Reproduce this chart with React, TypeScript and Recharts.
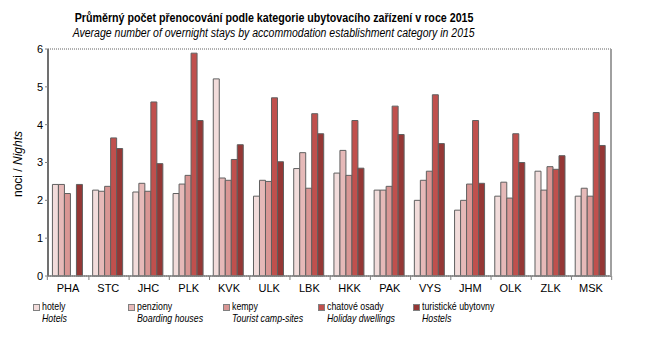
import { BarChart, Bar, XAxis, YAxis, CartesianGrid } from 'recharts';

const regions = ['PHA', 'STC', 'JHC', 'PLK', 'KVK', 'ULK', 'LBK', 'HKK', 'PAK', 'VYS', 'JHM', 'OLK', 'ZLK', 'MSK'];

const hotely = [2.42, 2.27, 2.22, 2.18, 5.21, 2.11, 2.84, 2.72, 2.27, 2.0, 1.74, 2.11, 2.77, 2.11];
const penziony = [2.42, 2.24, 2.45, 2.43, 2.59, 2.53, 3.26, 3.32, 2.27, 2.53, 2.0, 2.48, 2.27, 2.32];
const kempy = [2.18, 2.37, 2.24, 2.66, 2.53, 2.5, 2.32, 2.66, 2.37, 2.77, 2.43, 2.06, 2.89, 2.11];
const chatove = [null, 3.65, 4.6, 5.89, 3.08, 4.71, 4.29, 4.11, 4.49, 4.79, 4.11, 3.76, 2.82, 4.32];
const turisticke = [2.42, 3.37, 2.97, 4.11, 3.47, 3.02, 3.76, 2.85, 3.74, 3.5, 2.45, 3.0, 3.18, 3.45];

const yTicks = [0, 1, 2, 3, 4, 5, 6];

const series = [
  { key: 'hotely', cz: 'hotely', en: 'Hotels', color: '#f2dcdb' },
  { key: 'penziony', cz: 'penziony', en: 'Boarding houses', color: '#e6b9b8' },
  { key: 'kempy', cz: 'kempy', en: 'Tourist camp-sites', color: '#d99694' },
  { key: 'chatove', cz: 'chatové osady', en: 'Holiday dwellings', color: '#c0504d' },
  { key: 'turisticke', cz: 'turistické ubytovny', en: 'Hostels', color: '#953735' },
];

const data = regions.map((r, i) => ({
  region: r,
  hotely: hotely[i],
  penziony: penziony[i],
  kempy: kempy[i],
  chatove: chatove[i],
  turisticke: turisticke[i],
}));

const font = '"Liberation Sans", Arial, sans-serif';
const plotWidth = 582;

function CategoryTick(props: any) {
  const { x, y, payload, index } = props;
  const half = plotWidth / regions.length / 2;
  return (
    <g>
      <line x1={x + half} y1={y - 8} x2={x + half} y2={y - 4} stroke="#808080" />
      {index === 0 && <line x1={x - half} y1={y - 8} x2={x - half} y2={y - 4} stroke="#808080" />}
      <text x={x} y={y + 8} textAnchor="middle" fontSize={11} fontFamily={font} fill="#000">
        {payload.value}
      </text>
    </g>
  );
}

export default function App() {
  return (
    <div style={{ position: 'absolute', left: 0, top: 0, width: 649, height: 353, background: '#fff', fontFamily: font }}>
      <div style={{ position: 'absolute', left: 0, width: 548, top: 10, textAlign: 'center', lineHeight: '14px' }}>
        <span style={{ display: 'inline-block', fontSize: 12, fontWeight: 'bold', whiteSpace: 'nowrap', transform: 'scaleX(0.89)' }}>
          Průměrný počet přenocování podle kategorie ubytovacího zařízení v roce 2015
        </span>
      </div>
      <div style={{ position: 'absolute', left: 0, width: 548, top: 25, textAlign: 'center', lineHeight: '14px' }}>
        <span style={{ display: 'inline-block', fontSize: 12, fontStyle: 'italic', whiteSpace: 'nowrap', transform: 'scaleX(0.875)' }}>
          Average number of overnight stays by accommodation establishment category in 2015
        </span>
      </div>
      <div
        style={{
          position: 'absolute',
          left: 18,
          top: 164,
          transform: 'translate(-50%, -50%) rotate(-90deg)',
          whiteSpace: 'nowrap',
          fontSize: 12,
        }}
      >
        noci / <i>Nights</i>
      </div>
      <div style={{ position: 'absolute', left: 0, top: 0 }}>
        <BarChart
          width={649}
          height={300}
          data={data}
          margin={{ top: 49, right: 19, bottom: 4, left: 28 }}
          barCategoryGap="11%"
          barGap={0}
        >
          <CartesianGrid vertical={false} stroke="#606060" strokeDasharray="1 1" />
          <XAxis
            dataKey="region"
            axisLine={{ stroke: '#808080', strokeWidth: 1.5 }}
            tickLine={false}
            tick={<CategoryTick />}
            interval={0}
            height={20}
          />
          <YAxis
            yAxisId="left"
            domain={[0, 6]}
            ticks={yTicks}
            width={20}
            axisLine={{ stroke: '#707070', strokeWidth: 2 }}
            tickLine={{ stroke: '#808080' }}
            tickSize={3}
            tick={{ fontSize: 11, fill: '#000', fontFamily: font }}
          />
          <YAxis
            yAxisId="right"
            orientation="right"
            domain={[0, 6]}
            ticks={yTicks}
            width={19}
            axisLine={{ stroke: '#a0a0a0', strokeWidth: 2 }}
            tickLine={false}
            tick={false}
          />
          {series.map((s) => (
            <Bar
              key={s.key}
              yAxisId="left"
              dataKey={s.key}
              fill={s.color}
              stroke="#606060"
              strokeWidth={1}
              isAnimationActive={false}
            />
          ))}
        </BarChart>
      </div>
      {series.map((s, i) => (
        <div key={s.key} style={{ position: 'absolute', left: 33 + i * 95, top: 301, fontSize: 11, lineHeight: '11.5px' }}>
          <div
            style={{
              position: 'absolute',
              left: 0,
              top: 3,
              width: 5,
              height: 5,
              background: s.color,
              border: '1px solid #808080',
            }}
          />
          <div style={{ position: 'absolute', left: 9, top: 0, whiteSpace: 'nowrap', transform: 'scaleX(0.8)', transformOrigin: 'left' }}>{s.cz}</div>
          <div style={{ position: 'absolute', left: 9, top: 11.5, whiteSpace: 'nowrap', fontStyle: 'italic', transform: 'scaleX(0.8)', transformOrigin: 'left' }}>{s.en}</div>
        </div>
      ))}
    </div>
  );
}
